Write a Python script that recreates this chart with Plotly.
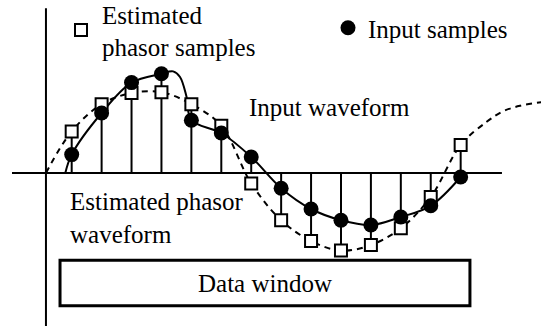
import plotly.graph_objects as go

# ---- data (sample index t, amplitude) ----
sample_t = list(range(1, 15))
input_samples = [0.23, 0.75, 1.13, 1.24, 0.66, 0.50, 0.20, -0.19, -0.45, -0.59, -0.65, -0.55, -0.41, -0.05]
phasor_samples = [0.52, 0.86, 1.00, 1.01, 0.86, 0.59, -0.13, -0.59, -0.85, -0.97, -0.90, -0.69, -0.30, 0.35]

input_wave_t = [0.78, 1, 2, 3, 4, 4.39, 4.62, 4.84, 5, 6, 7, 8, 9, 10, 11, 12, 13, 14]
input_wave_y = [-0.01, 0.23, 0.75, 1.13, 1.24, 1.27, 1.20, 0.95, 0.66, 0.50, 0.20, -0.19, -0.45, -0.59, -0.65, -0.55, -0.41, -0.05]

phasor_wave_t = [0.14, 1, 2, 3, 4, 5, 6, 7, 8, 9, 10, 11, 12, 13, 14, 14.87, 15.41, 15.98, 16.7]
phasor_wave_y = [0.0, 0.52, 0.86, 1.00, 1.01, 0.86, 0.59, -0.13, -0.59, -0.85, -0.97, -0.90, -0.69, -0.30, 0.35, 0.64, 0.77, 0.84, 0.885]

data_window_t = [0.61, 14.31]
data_window_y = [-1.66, -1.09]

x_range = [-1.396, 16.685]
y_range = [-1.9125, 2.1625]
h_axis_t = [-0.995, 15.38]
v_axis_t = 0.14
v_axis_y = [2.06, -1.95]

W, H = 541, 326
FONT = "Liberation Serif, Times New Roman, serif"
FS = 25

def px(x):
    return x / W

def py(y):
    return 1 - y / H

fig = go.Figure()

# stems
sx, sy = [], []
for t, a, b in zip(sample_t, input_samples, phasor_samples):
    v = a if abs(a) >= abs(b) else b
    sx += [t, t, None]
    sy += [0, v, None]
fig.add_trace(go.Scatter(x=sx, y=sy, mode="lines", line=dict(color="black", width=2),
                         showlegend=False, hoverinfo="skip"))

# axes lines
fig.add_trace(go.Scatter(x=h_axis_t, y=[0, 0], mode="lines", line=dict(color="black", width=2),
                         showlegend=False, hoverinfo="skip"))
fig.add_trace(go.Scatter(x=[v_axis_t, v_axis_t], y=v_axis_y, mode="lines",
                         line=dict(color="black", width=2), showlegend=False, hoverinfo="skip"))

# waveforms
fig.add_trace(go.Scatter(x=phasor_wave_t, y=phasor_wave_y, mode="lines",
                         line=dict(color="black", width=2, dash="6px,5px", shape="spline", smoothing=1.0),
                         showlegend=False, hoverinfo="skip"))
fig.add_trace(go.Scatter(x=input_wave_t, y=input_wave_y, mode="lines",
                         line=dict(color="black", width=2, shape="spline", smoothing=1.0),
                         showlegend=False, hoverinfo="skip"))

# samples
fig.add_trace(go.Scatter(x=sample_t, y=phasor_samples, mode="markers",
                         name="Estimated<br>phasor samples",
                         marker=dict(symbol="square", size=12, color="white",
                                     line=dict(color="black", width=2)),
                         legend="legend"))
fig.add_trace(go.Scatter(x=sample_t, y=input_samples, mode="markers",
                         name="Input samples",
                         marker=dict(symbol="circle", size=15, color="black"),
                         legend="legend2"))

# data window rectangle
fig.add_shape(type="rect", xref="x", yref="y",
              x0=data_window_t[0], x1=data_window_t[1],
              y0=data_window_y[0], y1=data_window_y[1],
              line=dict(color="black", width=3), fillcolor="rgba(0,0,0,0)")

annos = [
    dict(text="Input waveform", x=px(247), y=py(108), xanchor="left", yanchor="middle"),
    dict(text="Estimated phasor<br>waveform", x=px(68), y=py(218), xanchor="left",
         yanchor="middle", align="left"),
    dict(text="Data window", x=px(265), y=py(283), xanchor="center", yanchor="middle"),
]
for a in annos:
    fig.add_annotation(xref="paper", yref="paper", showarrow=False,
                       font=dict(family=FONT, size=FS, color="black"), **a)

legend_common = dict(font=dict(family=FONT, size=FS, color="black"),
                     bgcolor="rgba(0,0,0,0)", borderwidth=0,
                     xanchor="left", yanchor="top", itemsizing="trace")

fig.update_layout(
    width=W, height=H,
    margin=dict(l=0, r=0, t=0, b=0, autoexpand=False),
    paper_bgcolor="white", plot_bgcolor="white",
    xaxis=dict(range=x_range, visible=False, fixedrange=True),
    yaxis=dict(range=y_range, visible=False, fixedrange=True),
    legend=dict(x=px(60), y=py(-9), itemwidth=32, **legend_common),
    legend2=dict(x=px(328), y=py(5), **legend_common),
    showlegend=True,
)

fig.write_html("out.html")
